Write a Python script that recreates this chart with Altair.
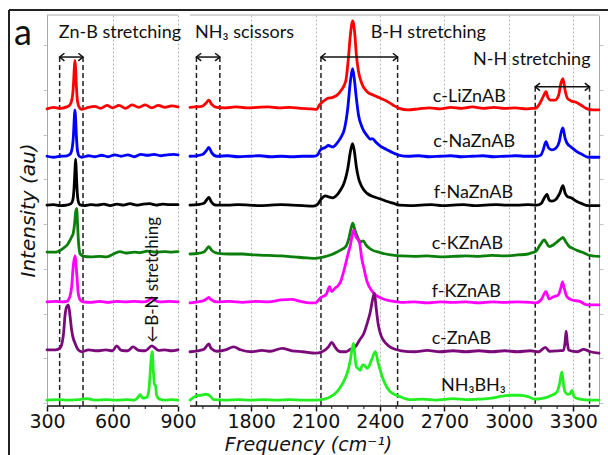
import altair as alt
import pandas as pd

# ---------------- data ----------------
SAMPLES = ["c-LiZnAB", "c-NaZnAB", "f-NaZnAB", "c-KZnAB", "f-KZnAB", "c-ZnAB", "NH₃BH₃"]
COLORS = ["#ff0000", "#0000ff", "#000000", "#0b7f0b", "#ff00ff", "#7a0a7a", "#22ee22"]
OFFSETS = [6.11, 5.11, 4.11, 3.11, 2.11, 1.11, 0.12]

RED_F = [300, 330, 360, 390, 405, 415, 421, 425, 428, 431, 435, 440, 448, 460, 490, 520, 545, 575, 600, 630, 660, 690, 720, 750, 780, 810, 840, 870, 900,
         1515, 1540, 1570, 1590, 1603, 1616, 1640, 1680, 1730, 1780, 1830, 1880, 1930, 1980, 2030, 2080, 2105, 2118, 2135, 2155, 2175, 2200, 2216, 2240, 2254, 2262, 2273, 2283, 2290, 2300, 2315, 2340, 2370, 2400, 2430, 2460, 2490, 2530, 2580, 2630, 2680, 2730, 2780, 2830, 2880, 2930, 2980, 3030, 3080, 3110, 3125, 3140, 3160, 3173, 3182, 3195, 3215, 3232, 3242, 3252, 3262, 3272, 3290, 3310, 3335, 3360, 3390, 3420]
RED_I = [-0.03, 0.0, -0.02, 0.01, 0.05, 0.18, 0.45, 0.8, 0.96, 0.8, 0.4, 0.12, 0.0, -0.04, 0.0, 0.02, -0.02, 0.04, -0.01, 0.04, -0.02, 0.05, 0.0, 0.05, -0.01, 0.04, 0.0, 0.03, 0.01,
         0.0, 0.01, 0.02, 0.09, 0.15, 0.06, 0.0, -0.01, 0.01, -0.01, 0.0, 0.01, -0.01, 0.0, -0.02, -0.03, -0.04, 0.05, 0.12, 0.18, 0.20, 0.25, 0.33, 0.53, 1.07, 1.48, 1.77, 1.48, 1.07, 0.73, 0.49, 0.32, 0.25, 0.19, 0.13, 0.05, -0.02, -0.05, -0.03, -0.01, -0.03, 0.0, -0.02, 0.01, -0.02, 0.0, -0.02, -0.01, -0.03, -0.02, -0.02, 0.05, 0.22, 0.32, 0.2, 0.15, 0.15, 0.25, 0.48, 0.59, 0.35, 0.19, 0.13, 0.11, 0.05, -0.02, -0.05, -0.05]

BLUE_F = [300, 330, 360, 390, 405, 415, 421, 425, 428, 431, 435, 440, 448, 460, 490, 520, 550, 580, 610, 640, 670, 700, 730, 760, 790, 820, 850, 880, 900,
          1515, 1545, 1575, 1592, 1603, 1615, 1640, 1690, 1740, 1790, 1840, 1890, 1940, 1990, 2040, 2090, 2110, 2122, 2145, 2160, 2180, 2200, 2216, 2235, 2250, 2262, 2272, 2280, 2290, 2300, 2315, 2340, 2355, 2365, 2380, 2400, 2430, 2460, 2490, 2530, 2580, 2630, 2680, 2730, 2780, 2830, 2880, 2930, 2980, 3030, 3080, 3130, 3150, 3160, 3173, 3185, 3200, 3220, 3235, 3245, 3252, 3262, 3272, 3290, 3315, 3340, 3370, 3420]
BLUE_I = [0.0, -0.02, 0.0, 0.01, 0.04, 0.16, 0.42, 0.78, 0.95, 0.78, 0.38, 0.1, 0.0, -0.02, 0.01, -0.01, 0.02, -0.01, 0.03, 0.0, 0.03, -0.01, 0.04, 0.02, 0.04, 0.01, 0.03, 0.04, 0.03,
          0.0, 0.01, 0.04, 0.12, 0.18, 0.08, 0.0, 0.01, -0.01, 0.0, 0.01, -0.01, 0.0, -0.01, 0.0, 0.0, 0.03, 0.13, 0.18, 0.22, 0.19, 0.27, 0.37, 0.57, 0.99, 1.53, 1.79, 1.59, 1.18, 0.84, 0.61, 0.42, 0.35, 0.36, 0.29, 0.21, 0.14, 0.07, 0.02, 0.0, 0.01, -0.01, 0.0, 0.01, -0.01, 0.0, 0.01, -0.01, 0.0, 0.01, 0.0, 0.0, 0.03, 0.13, 0.30, 0.17, 0.13, 0.17, 0.30, 0.51, 0.58, 0.37, 0.26, 0.19, 0.10, 0.04, -0.02, -0.02]

BLACK_F = [300, 330, 360, 390, 410, 418, 424, 428, 431, 434, 438, 443, 450, 470, 500, 530, 560, 590, 620, 650, 680, 710, 740, 770, 800, 830, 860, 900,
           1515, 1550, 1580, 1593, 1603, 1614, 1635, 1690, 1740, 1790, 1840, 1890, 1940, 1990, 2040, 2090, 2110, 2122, 2145, 2160, 2180, 2200, 2216, 2235, 2250, 2262, 2272, 2280, 2290, 2300, 2315, 2340, 2370, 2400, 2430, 2460, 2490, 2540, 2590, 2640, 2690, 2740, 2790, 2840, 2890, 2940, 2990, 3040, 3090, 3130, 3150, 3162, 3178, 3188, 3200, 3220, 3238, 3252, 3262, 3272, 3290, 3315, 3340, 3370, 3420]
BLACK_I = [0.0, 0.01, -0.01, 0.0, 0.03, 0.1, 0.35, 0.7, 0.94, 0.7, 0.3, 0.08, 0.01, -0.01, 0.01, 0.0, 0.02, -0.01, 0.02, 0.0, 0.03, 0.0, 0.02, 0.03, 0.0, 0.02, 0.01, 0.01,
           0.0, 0.01, 0.04, 0.11, 0.16, 0.07, 0.0, 0.0, 0.01, 0.0, -0.01, 0.0, 0.01, 0.0, -0.01, -0.02, 0.02, 0.1, 0.19, 0.17, 0.15, 0.21, 0.31, 0.48, 0.75, 1.09, 1.26, 1.12, 0.78, 0.55, 0.38, 0.24, 0.17, 0.13, 0.08, 0.04, 0.0, -0.01, 0.0, 0.01, -0.01, 0.0, 0.01, -0.01, 0.0, 0.01, 0.0, 0.0, 0.01, 0.0, 0.03, 0.12, 0.22, 0.10, 0.08, 0.12, 0.25, 0.40, 0.25, 0.18, 0.15, 0.08, 0.03, -0.01, -0.01]

GREEN_F = [300, 340, 375, 395, 405, 413, 420, 426, 431, 436, 440, 445, 452, 470, 500, 540, 573, 600, 634, 660, 700, 726, 760, 800, 840, 870, 900,
           1515, 1550, 1580, 1592, 1603, 1615, 1640, 1700, 1760, 1820, 1880, 1940, 2000, 2060, 2100, 2140, 2169, 2200, 2216, 2240, 2255, 2265, 2273, 2283, 2295, 2310, 2322, 2335, 2360, 2400, 2450, 2500, 2560, 2620, 2680, 2740, 2800, 2860, 2920, 2980, 3040, 3090, 3110, 3125, 3145, 3165, 3175, 3188, 3205, 3225, 3245, 3252, 3265, 3280, 3300, 3320, 3340, 3370, 3420]
GREEN_I = [0.04, 0.04, 0.12, 0.2, 0.28, 0.35, 0.42, 0.6, 0.85, 0.93, 0.6, 0.2, 0.0, -0.05, -0.06, -0.05, -0.06, -0.01, 0.05, 0.02, 0.04, 0.03, 0.06, 0.04, 0.05, 0.04, 0.05,
           0.0, 0.01, 0.04, 0.10, 0.15, 0.08, 0.02, 0.0, 0.0, -0.02, -0.03, -0.04, -0.06, -0.08, -0.09, -0.06, -0.02, 0.04, 0.08, 0.15, 0.32, 0.52, 0.63, 0.49, 0.35, 0.25, 0.27, 0.18, 0.09, 0.03, -0.02, -0.04, -0.05, -0.04, -0.06, -0.05, -0.04, -0.05, -0.03, -0.04, -0.02, 0.0, 0.03, 0.05, 0.18, 0.29, 0.23, 0.15, 0.18, 0.25, 0.32, 0.34, 0.25, 0.16, 0.11, 0.07, 0.04, -0.02, -0.05]

MAGENTA_F = [300, 340, 370, 390, 398, 406, 413, 420, 428, 436, 443, 452, 465, 500, 540, 580, 620, 660, 700, 740, 765, 780, 795, 820, 860, 900,
             1515, 1550, 1580, 1595, 1603, 1612, 1640, 1700, 1760, 1820, 1880, 1940, 1990, 2030, 2070, 2100, 2122, 2150, 2165, 2175, 2190, 2200, 2216, 2235, 2250, 2262, 2277, 2288, 2298, 2305, 2315, 2325, 2340, 2360, 2380, 2410, 2450, 2500, 2560, 2620, 2680, 2740, 2800, 2860, 2920, 2980, 3040, 3100, 3125, 3150, 3173, 3188, 3205, 3230, 3242, 3250, 3258, 3270, 3295, 3330, 3365, 3420]
MAGENTA_I = [0.02, 0.03, 0.02, 0.03, 0.06, 0.15, 0.33, 0.74, 0.96, 0.61, 0.2, 0.06, 0.02, 0.01, 0.03, 0.01, 0.03, 0.02, 0.03, 0.02, 0.05, 0.10, 0.05, 0.02, 0.03, 0.02,
             0.0, 0.02, 0.05, 0.09, 0.11, 0.07, 0.02, 0.03, 0.01, 0.03, 0.02, 0.06, 0.07, 0.03, 0.0, 0.0, 0.10, 0.18, 0.33, 0.23, 0.30, 0.33, 0.43, 0.71, 0.98, 1.18, 1.49, 1.35, 1.29, 1.22, 0.91, 0.71, 0.43, 0.26, 0.16, 0.09, 0.04, 0.01, 0.02, 0.0, 0.02, 0.01, 0.02, 0.0, 0.02, 0.01, 0.02, 0.01, 0.0, 0.06, 0.23, 0.08, 0.12, 0.16, 0.30, 0.43, 0.30, 0.13, 0.06, 0.03, -0.04, -0.04]

PURPLE_F = [300, 340, 360, 370, 376, 382, 390, 398, 405, 413, 420, 428, 443, 460, 490, 530, 570, 600, 619, 640, 670, 694, 720, 750, 780, 810, 840, 870, 900,
            1515, 1550, 1580, 1593, 1603, 1613, 1640, 1680, 1719, 1750, 1800, 1850, 1890, 1944, 1990, 2040, 2100, 2130, 2160, 2175, 2190, 2205, 2220, 2240, 2262, 2285, 2305, 2325, 2340, 2355, 2366, 2374, 2382, 2392, 2405, 2420, 2440, 2470, 2500, 2560, 2620, 2680, 2740, 2800, 2860, 2920, 2980, 3040, 3100, 3140, 3170, 3190, 3230, 3255, 3262, 3267, 3272, 3280, 3320, 3348, 3380, 3420]
PURPLE_I = [0.04, 0.04, 0.08, 0.2, 0.38, 0.72, 0.92, 0.96, 0.75, 0.44, 0.28, 0.18, 0.04, 0.0, 0.04, 0.02, 0.04, 0.02, 0.12, 0.03, 0.02, 0.10, 0.03, 0.02, 0.12, 0.03, 0.04, 0.02, 0.04,
            0.0, 0.02, 0.05, 0.12, 0.16, 0.07, 0.01, 0.04, 0.10, 0.04, 0.0, 0.03, 0.01, 0.07, 0.02, 0.0, -0.03, 0.0, 0.10, 0.19, 0.10, 0.02, 0.0, 0.0, 0.05, 0.10, 0.24, 0.38, 0.58, 0.82, 1.08, 1.20, 0.9, 0.55, 0.33, 0.21, 0.12, 0.05, 0.02, 0.0, 0.03, 0.0, 0.02, 0.0, 0.02, 0.0, 0.02, 0.0, 0.02, 0.0, 0.09, 0.01, 0.02, 0.03, 0.2, 0.42, 0.2, 0.03, 0.0, 0.05, 0.0, -0.03]

LIME_F = [300, 350, 400, 450, 482, 520, 570, 620, 670, 700, 715, 726, 738, 755, 765, 772, 777, 782, 787, 792, 797, 802, 815, 840, 870, 900,
          1515, 1540, 1565, 1590, 1610, 1625, 1680, 1740, 1800, 1860, 1920, 1980, 2040, 2100, 2140, 2169, 2195, 2216, 2235, 2247, 2262, 2270, 2277, 2283, 2290, 2300, 2308, 2316, 2324, 2341, 2363, 2378, 2392, 2416, 2448, 2495, 2541, 2600, 2660, 2742, 2800, 2860, 2920, 2970, 3010, 3050, 3090, 3120, 3150, 3200, 3225, 3237, 3247, 3255, 3262, 3275, 3285, 3294, 3305, 3330, 3380, 3420]
LIME_I = [0.0, 0.01, 0.0, 0.01, 0.03, 0.0, 0.01, 0.0, 0.01, 0.0, 0.05, 0.11, 0.04, 0.05, 0.15, 0.5, 0.85, 0.99, 0.6, 0.33, 0.3, 0.1, 0.02, 0.0, 0.01, 0.0,
          0.0, 0.08, 0.10, 0.12, 0.08, 0.01, 0.0, 0.01, 0.0, 0.01, 0.0, 0.01, 0.0, 0.0, 0.02, 0.07, 0.15, 0.27, 0.42, 0.55, 0.82, 1.05, 1.16, 0.9, 0.68, 0.64, 0.61, 0.70, 0.72, 0.65, 0.85, 0.99, 0.75, 0.41, 0.17, 0.07, 0.01, 0.02, 0.0, 0.03, 0.01, 0.02, 0.04, 0.08, 0.10, 0.10, 0.07, 0.02, 0.03, 0.10, 0.17, 0.35, 0.58, 0.31, 0.17, 0.12, 0.13, 0.20, 0.06, 0.02, 0.0, 0.0]

FREQS = [RED_F, BLUE_F, BLACK_F, GREEN_F, MAGENTA_F, PURPLE_F, LIME_F]
INTS = [RED_I, BLUE_I, BLACK_I, GREEN_I, MAGENTA_I, PURPLE_I, LIME_I]

# sample labels
LABEL_X = [2816, 2839, 2835, 2807, 2802, 2779, 2835]
LABEL_Y = [6.23, 5.29, 4.25, 3.21, 2.24, 1.26, 0.31]

# region annotations
REGION_TEXT = ["Zn-B stretching", "NH₃ scissors", "B-H stretching", "N-H stretching"]
REGION_TX = [634, 1769, 2625, 3107]
REGION_TY = [7.53, 7.53, 7.53, 6.98]
REGION_LO = [358, 1545, 2125, 3123]
REGION_HI = [465, 1654, 2482, 3376]
REGION_Y = [7.14, 7.14, 7.14, 6.53]

BN_TEXT = ["←B-N stretching"]
BN_X = [786]
BN_Y = [2.58]

MAJOR = [300, 600, 900, 1800, 2100, 2400, 2700, 3000, 3300]
MINOR = [375, 450, 525, 675, 750, 825, 1575, 1650, 1725, 1875, 1950, 2025, 2175, 2250, 2325,
         2475, 2550, 2625, 2775, 2850, 2925, 3075, 3150, 3225, 3375]
YTICKS = [0.06, 0.975, 1.89, 2.805, 3.72, 4.635, 5.55, 6.465, 7.38]
SEG_LO = [300, 1515]
SEG_HI = [900, 3420]

# ---------------- chart ----------------
XS = alt.Scale(domain=[300, 900, 1515, 3420], range=[0, 131, 143, 552], nice=False, zero=False)
YS = alt.Scale(domain=[0, 8], nice=False, zero=False)
ANN_FONT = "Lato"
ANN_SIZE = 18


def X(field="freq", axis=None):
    return alt.X(f"{field}:Q", scale=XS, axis=axis)


def Y(field="val", axis=None):
    return alt.Y(f"{field}:Q", scale=YS, axis=axis)


x_axis = alt.Axis(values=MAJOR, format="d", labelFont="DejaVu Sans", labelFontSize=19, labelColor="#111",
                  labelPadding=1, labelFlush=False, labelOverlap=False,
                  tickSize=5, tickWidth=1.5, tickColor="#111", domain=False,
                  grid=True, gridColor="#b5b5b5", gridDash=[2, 2], gridWidth=1,
                  title="Frequency (cm⁻¹)", titleFont="DejaVu Sans", titleFontSize=19,
                  titleFontStyle="italic", titleFontWeight="normal", titleColor="#111",
                  titleX=261, titleY=44, titleBaseline="alphabetic", titleAlign="center")
y_axis_left = alt.Axis(values=YTICKS, labels=False, tickSize=4, tickColor="#c4c4c4", tickWidth=1,
                       domainColor="#a8a8a8", domainWidth=1, grid=False,
                       title="Intensity (au)", titleFont="DejaVu Sans", titleFontSize=20,
                       titleFontStyle="italic", titleFontWeight="normal", titleColor="#111",
                       titleX=-19, titleY=195, titleAngle=270, titleAlign="center",
                       titleBaseline="middle")
y_axis_right = alt.Axis(values=YTICKS, labels=False, tickSize=4, tickColor="#c4c4c4", tickWidth=1,
                        domainColor="#a8a8a8", domainWidth=1, grid=False, orient="right", title=None)

layers = []

# spines: top (gray) and bottom (black), broken between the panels
spine_df = pd.DataFrame({"lo": SEG_LO, "hi": SEG_HI, "top": [8, 8], "bot": [0, 0]})
layers.append(alt.Chart(spine_df).mark_rule(color="#a8a8a8", strokeWidth=1).encode(
    x=X("lo", x_axis), x2="hi", y=Y("top", y_axis_right)))
layers.append(alt.Chart(spine_df).mark_rule(color="#111", strokeWidth=1.5).encode(
    x=X("lo"), x2="hi", y=Y("bot", y_axis_left)))

# minor ticks
minor_df = pd.DataFrame({"f": MINOR})
layers.append(alt.Chart(minor_df).mark_rule(color="#111", strokeWidth=1).encode(
    x=X("f"), y=alt.value(391), y2=alt.value(394)))

# dashed region markers
reg_df = pd.DataFrame({"lo": REGION_LO, "hi": REGION_HI, "y": REGION_Y, "zero": [0] * 4,
                       "tx": REGION_TX, "ty": REGION_TY, "t": REGION_TEXT})
dash_df = pd.DataFrame({"f": REGION_LO + REGION_HI, "y": REGION_Y + REGION_Y, "zero": [0] * 8})
layers.append(alt.Chart(dash_df).mark_rule(color="#222", strokeWidth=1.5, strokeDash=[5, 3]).encode(
    x=X("f"), y=Y("y"), y2="zero"))

# spectra
for s, c, off, fx, iy in zip(SAMPLES, COLORS, OFFSETS, FREQS, INTS):
    rows = [{"freq": f, "val": v + off, "seg": "L" if f <= 900 else "R"} for f, v in zip(fx, iy)]
    d = pd.DataFrame(rows)
    layers.append(alt.Chart(d).mark_line(color=c, strokeWidth=2.8, interpolate="monotone",
                                         strokeJoin="round", strokeCap="round").encode(
        x=X(), y=Y(), detail="seg:N"))

# arrows
layers.append(alt.Chart(reg_df).mark_rule(color="#111", strokeWidth=1.5).encode(
    x=X("lo"), x2="hi", y=Y("y")))
layers.append(alt.Chart(reg_df).mark_point(shape="M-1,-0.8L0,0L-1,0.8", filled=False, size=90,
                                           color="#111", strokeWidth=1.5, opacity=1).encode(
    x=X("hi"), y=Y("y")))
layers.append(alt.Chart(reg_df).mark_point(shape="M1,-0.8L0,0L1,0.8", filled=False, size=90,
                                           color="#111", strokeWidth=1.5, opacity=1).encode(
    x=X("lo"), y=Y("y")))

# region titles
layers.append(alt.Chart(reg_df).mark_text(font=ANN_FONT, fontSize=ANN_SIZE, color="#111",
                                          align="center", baseline="alphabetic").encode(
    x=X("tx"), y=Y("ty"), text="t:N"))

# sample labels
lab_df = pd.DataFrame({"x": LABEL_X, "y": LABEL_Y, "t": SAMPLES})
layers.append(alt.Chart(lab_df).mark_text(font=ANN_FONT, fontSize=ANN_SIZE, color="#111",
                                          align="center", baseline="alphabetic").encode(
    x=X("x"), y=Y("y"), text="t:N"))

# B-N stretching annotation
bn_df = pd.DataFrame({"x": BN_X, "y": BN_Y, "t": BN_TEXT})
layers.append(alt.Chart(bn_df).mark_text(font=ANN_FONT, fontSize=17, color="#111", angle=270,
                                         align="center", baseline="middle").encode(
    x=X("x"), y=Y("y"), text="t:N"))

# panel letter and outer frame
one = pd.DataFrame({"k": [0]})
layers.append(alt.Chart(one).mark_text(text="a", font=ANN_FONT, fontSize=36, color="#111",
                                       align="center", baseline="alphabetic").encode(
    x=alt.value(-24), y=alt.value(30)))
layers.append(alt.Chart(one).mark_rule(color="#222", strokeWidth=2).encode(
    x=alt.value(-38), x2=alt.value(561), y=alt.value(-5)))
layers.append(alt.Chart(one).mark_rule(color="#222", strokeWidth=2).encode(
    x=alt.value(-38), y=alt.value(-5), y2=alt.value(440)))

chart = alt.layer(*layers).resolve_axis(x="independent", y="independent").properties(
    width=552, height=391,
    padding={"left": 47, "top": 15, "right": 9, "bottom": 49},
    autosize=alt.AutoSizeParams(type="none"),
    background="white",
).configure_view(stroke=None)

chart.save("out.html", embed_options={"renderer": "svg", "actions": False})
